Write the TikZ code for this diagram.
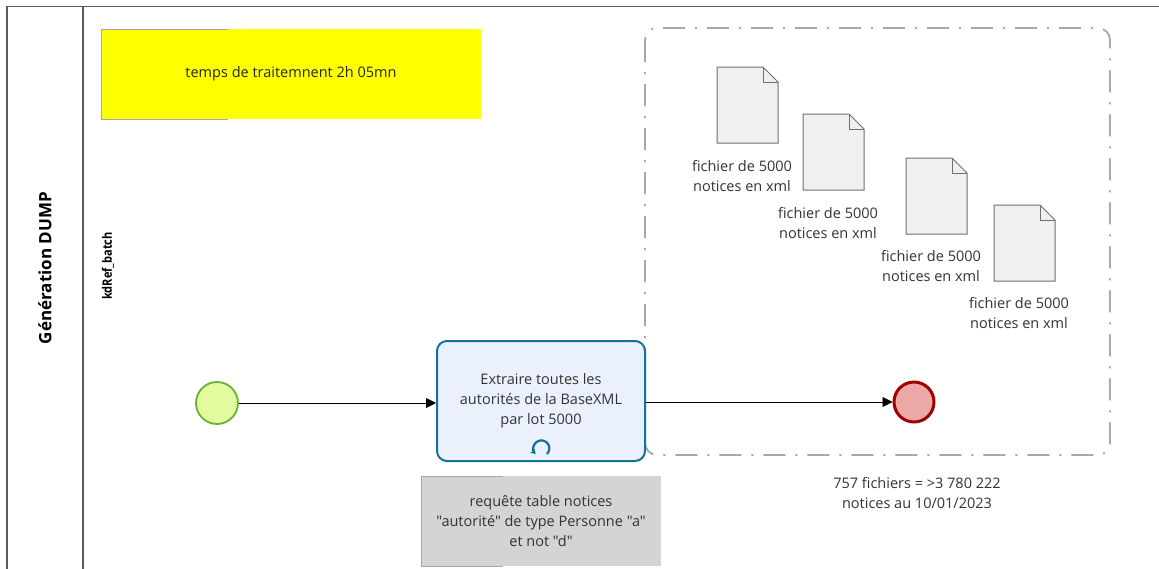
\documentclass[tikz,border=0pt]{standalone}
\usepackage{fontspec}
\setmainfont{Open Sans}[Ligatures=TeXOff]
\usetikzlibrary{arrows.meta}
\definecolor{poolline}{HTML}{5A5A5A}
\definecolor{taskblue}{HTML}{10739E}
\definecolor{taskfill}{HTML}{EAF0FC}
\definecolor{startfill}{HTML}{E2FB9E}
\definecolor{startline}{HTML}{6AB130}
\definecolor{endfill}{HTML}{EDA8A8}
\definecolor{endline}{HTML}{A00000}
\definecolor{groupline}{HTML}{A8A8A8}
\definecolor{docfill}{HTML}{F0F0F0}
\definecolor{docline}{HTML}{707070}
\definecolor{notegray}{HTML}{D4D4D4}
\definecolor{txtgray}{HTML}{333333}
\definecolor{pureyellow}{HTML}{FFFF00}
\tikzset{
  x=1pt,y=-1pt,
  lbl/.style={font=\fontsize{14.5}{20}\selectfont, text=txtgray, align=center, inner sep=0pt},
  flow/.style={draw=black, line width=0.9pt, -{Triangle[length=10pt,width=10pt]}},
  docshape/.style={draw=docline, fill=docfill, line width=1pt, line join=miter},
}
\newcommand{\docicon}[2]{%
  \draw[docshape] (#1,#2) -- ++(46,0) -- ++(15,15) -- ++(0,61) -- ++(-61,0) -- cycle;
  \draw[docline, line width=1pt] (#1+46,#2) -- ++(0,15) -- ++(15,0);
}
\begin{document}
\begin{tikzpicture}
\useasboundingbox (0,0) rectangle (1159,568);
\fill[white] (0,0) rectangle (1159,568);
% pool
\draw[poolline, line width=1.2pt] (1160,6.5) -- (7,6.5) -- (7,569);
\draw[poolline, line width=1.2pt] (83,6.5) -- (83,569);
\node[rotate=90, font=\bfseries\fontsize{17}{18}\selectfont] (pool) at (45,268) {Génération DUMP};
\node[rotate=90, font=\bfseries\fontsize{13}{15}\selectfont, xscale=0.85] (lane) at (108,266) {kdRef\_batch};
% yellow note
\fill[pureyellow] (101,29) rectangle (481,119);
\draw[gray!70, line width=0.8pt] (228,29) -- (101,29) -- (101,119) -- (228,119);
\node[lbl, text=black!85] (timenote) at (291,74) {temps de traitemnent 2h 05mn};
% group
\draw[groupline, line width=1.8pt, dash pattern=on 22pt off 10pt on 2pt off 10pt, rounded corners=12pt]
  (645,28) rectangle (1110,455);
% documents
\docicon{717}{67}
\docicon{803}{114}
\docicon{906}{158}
\docicon{994}{205}
\node[lbl] (d1) at (742,176) {fichier de 5000\\notices en xml};
\node[lbl] (d2) at (828,223) {fichier de 5000\\notices en xml};
\node[lbl] (d3) at (931,266) {fichier de 5000\\notices en xml};
\node[lbl] (d4) at (1019,313) {fichier de 5000\\notices en xml};
% gray note
\fill[notegray] (421,476) rectangle (661,566);
\draw[gray!70, line width=0.8pt] (503,476) -- (421,476) -- (421,566) -- (503,566);
\node[lbl] (query) at (541,521) {requête table notices\\"autorité" de type Personne "a"\\et not "d"};
% task
\node[draw=taskblue, fill=taskfill, line width=2pt, rounded corners=10pt, minimum width=208pt, minimum height=120pt, inner sep=0pt] (task) at (541,401) {};
\node[lbl] (tasktxt) at (541,401) {Extraire toutes les\\autorités de la BaseXML\\par lot 5000};
\draw[taskblue, line width=2.2pt, -{Stealth[length=5pt,width=6pt]}] (547,454) arc[start angle=-45, end angle=225, radius=8pt];
% events
\node[circle, draw=startline, fill=startfill, line width=1.8pt, minimum size=42pt, inner sep=0pt] (start) at (217,403) {};
\node[circle, draw=endline, fill=endfill, line width=3pt, minimum size=40pt, inner sep=0pt] (end) at (914,402) {};
\draw[flow] (start) -- (task.west |- start);
\draw[flow] (task.east |- end) -- (end);
% bottom text
\node[lbl] (total) at (917,493) {757 fichiers = >3 780 222\\notices au 10/01/2023};
\end{tikzpicture}
\end{document}
